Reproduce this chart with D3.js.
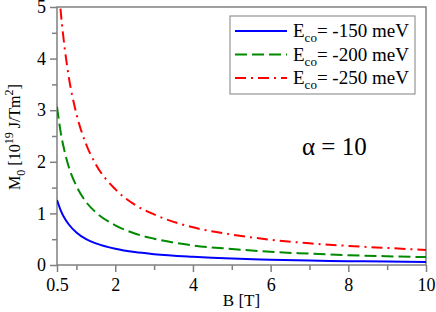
<!DOCTYPE html>
<html>
<head>
<meta charset="utf-8">
<script src="https://cdn.jsdelivr.net/npm/d3@7"></script>
<style>
  body { margin: 0; background: #fff; }
  svg, text { font-family: "Liberation Serif", "Times New Roman", serif; }
</style>
</head>
<body>
<div id="chart"></div>
<script>
// field B [T]
const bField = [0.5, 0.6, 0.7, 0.8, 1, 1.25, 1.5, 2, 2.5, 3, 4, 5, 6, 7, 8, 9, 10];
// M0 [10^19 J/Tm^2]
const m150 = [1.26, 1.05, 0.90, 0.79, 0.63, 0.50, 0.42, 0.315, 0.25, 0.21, 0.16, 0.125, 0.103, 0.085, 0.074, 0.066, 0.059];
const m200 = [3.07, 2.55, 2.19, 1.91, 1.53, 1.22, 1.02, 0.77, 0.61, 0.51, 0.38, 0.31, 0.255, 0.22, 0.19, 0.17, 0.153];
const m250 = [5.86, 4.88, 4.19, 3.66, 2.93, 2.34, 1.95, 1.47, 1.17, 0.98, 0.73, 0.59, 0.49, 0.42, 0.37, 0.33, 0.29];
const seriesNames = ["-150", "-200", "-250"];
const xMajor = [0.5, 2, 4, 6, 8, 10];
const xMinor = [1, 3, 5, 7, 9];
const yMajor = [0, 1, 2, 3, 4, 5];
const yMinor = [0.5, 1.5, 2.5, 3.5, 4.5];

const w = 436, h = 312;
const padL = 57, padR = 426, padT = 7, padB = 265;

const svg = d3.select("#chart").append("svg")
    .attr("width", w)
    .attr("height", h);

const x = d3.scaleLinear().domain([0.5, 10]).range([padL, padR]);
const y = d3.scaleLinear().domain([0, 5]).range([padB, padT]);

svg.append("clipPath").attr("id", "clip")
    .append("rect")
    .attr("x", padL).attr("y", padT)
    .attr("width", padR - padL).attr("height", padB - padT);

const axisColor = "#808080";

// x axis
const gx = svg.append("g").attr("transform", "translate(0," + padB + ")");
gx.call(d3.axisBottom(x).tickValues(xMajor).tickSize(7).tickFormat(d => d));
gx.append("g").call(d3.axisBottom(x).tickValues(xMinor).tickSize(5).tickFormat(""));

// y axis
const gy = svg.append("g").attr("transform", "translate(" + padL + ",0)");
gy.call(d3.axisLeft(y).tickValues(yMajor).tickSize(7).tickFormat(d => d));
gy.append("g").call(d3.axisLeft(y).tickValues(yMinor).tickSize(5).tickFormat(""));

svg.selectAll(".domain").remove();
svg.selectAll("g").attr("font-family", null);
svg.selectAll(".tick line").attr("stroke", axisColor).attr("stroke-width", 1.5);
gx.selectAll(".tick text")
    .attr("fill", "#000").attr("font-size", 18)
    .attr("dy", 16);
gy.selectAll(".tick text")
    .attr("fill", "#000").attr("font-size", 18)
    .attr("dx", "-0.05em");

// frame
svg.append("rect")
    .attr("x", padL).attr("y", padT)
    .attr("width", padR - padL).attr("height", padB - padT)
    .attr("fill", "none").attr("stroke", axisColor).attr("stroke-width", 1.5);

// curves
const line = d3.line()
    .x((d, i) => x(bField[i]))
    .y(d => y(d))
    .curve(d3.curveMonotoneX);

const styles = [
    { data: m150, color: "#0000ff", dash: null },
    { data: m200, color: "#008a00", dash: "12,5" },
    { data: m250, color: "#ff0000", dash: "11,5,2,5" }
];

const plot = svg.append("g").attr("clip-path", "url(#clip)");
styles.forEach(s => {
    plot.append("path")
        .attr("d", line(s.data))
        .attr("fill", "none")
        .attr("stroke", s.color)
        .attr("stroke-width", 2)
        .attr("stroke-dasharray", s.dash);
});

// legend
const lg = svg.append("g");
lg.append("rect")
    .attr("x", 230).attr("y", 16)
    .attr("width", 185).attr("height", 78)
    .attr("fill", "#fff").attr("stroke", axisColor).attr("stroke-width", 1);

styles.forEach((s, i) => {
    const ly = 31 + i * 23.5;
    lg.append("line")
        .attr("x1", 235).attr("x2", 287)
        .attr("y1", ly).attr("y2", ly)
        .attr("stroke", s.color).attr("stroke-width", 2)
        .attr("stroke-dasharray", s.dash);
    const t = lg.append("text")
        .attr("x", 293).attr("y", ly + 6)
        .attr("font-size", 19);
    t.append("tspan").text("E");
    t.append("tspan").attr("font-size", 13).attr("dy", 5).text("co");
    t.append("tspan").attr("dy", -5).text("= " + seriesNames[i] + " meV");
});

// annotation
svg.append("text")
    .attr("x", 302).attr("y", 155)
    .attr("font-size", 25)
    .text("\u03b1 = 10");

// axis titles
svg.append("text")
    .attr("x", (padL + padR) / 2).attr("y", 306)
    .attr("text-anchor", "middle")
    .attr("font-size", 17)
    .text("B [T]");

const yt = svg.append("text")
    .attr("transform", "translate(20,137) rotate(-90)")
    .attr("text-anchor", "middle")
    .attr("font-size", 16);
yt.append("tspan").text("M");
yt.append("tspan").attr("font-size", 12).attr("dy", 5).text("0");
yt.append("tspan").attr("dy", -5).text(" [10");
yt.append("tspan").attr("font-size", 12).attr("dy", -7).text("19");
yt.append("tspan").attr("dy", 7).text(" J/Tm");
yt.append("tspan").attr("font-size", 12).attr("dy", -7).text("2");
yt.append("tspan").attr("dy", 7).text("]");
</script>
</body>
</html>
